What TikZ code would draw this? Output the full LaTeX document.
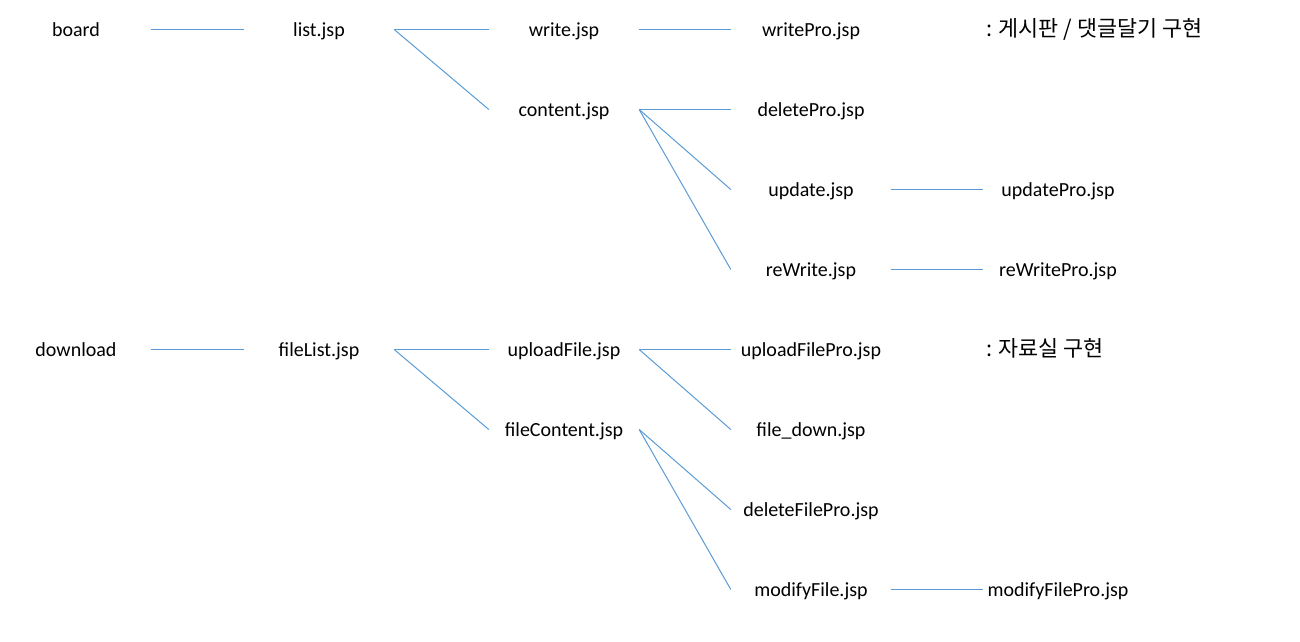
\documentclass[tikz,border=0pt]{standalone}
\usepackage{fontspec}
\setmainfont{Carlito}
\newfontfamily\krfont{Noto Sans CJK KR}
\usetikzlibrary{positioning}
\definecolor{linkblue}{RGB}{91,155,213}

\begin{document}
\begin{tikzpicture}[x=1pt,y=-1pt,
  page/.style={inner sep=0pt,minimum width=150pt,text height=19pt,text depth=4.2pt,
    font=\fontsize{20}{24}\selectfont},
  widepage/.style={page,minimum width=160pt},
  link/.style={draw=linkblue,line width=1pt},
  note/.style={anchor=base west,inner sep=0pt,font=\krfont\fontsize{21.8}{26}\selectfont}]
\useasboundingbox (0,0) rectangle (1300,641);
% board
\node[page] (board) at (76,29.5) {board};
\node[page] (list) at (319,29.5) {list.jsp};
\node[page] (write) at (564,29.5) {write.jsp};
\node[page] (content) at (564,109.5) {content.jsp};
\node[widepage] (writePro) at (811,29.5) {writePro.jsp};
\node[widepage] (deletePro) at (811,109.5) {deletePro.jsp};
\node[widepage] (update) at (811,189.5) {update.jsp};
\node[widepage] (reWrite) at (811,269.5) {reWrite.jsp};
\node[page] (updatePro) at (1058,189.5) {updatePro.jsp};
\node[page] (reWritePro) at (1058,269.5) {reWritePro.jsp};
\node[note] (boardNote) at (986,36.7) {: 게시판 / 댓글달기 구현};
\draw[link] (board.east) -- (list.west);
\draw[link] (list.east) -- (write.west);
\draw[link] (list.east) -- (content.west);
\draw[link] (write.east) -- (writePro.west);
\draw[link] (content.east) -- (deletePro.west);
\draw[link] (content.east) -- (update.west);
\draw[link] (content.east) -- (reWrite.west);
\draw[link] (update.east) -- (updatePro.west);
\draw[link] (reWrite.east) -- (reWritePro.west);
% download
\node[page] (download) at (76,349.5) {download};
\node[page] (fileList) at (319,349.5) {fileList.jsp};
\node[page] (uploadFile) at (564,349.5) {uploadFile.jsp};
\node[page] (fileContent) at (564,429.5) {fileContent.jsp};
\node[widepage] (uploadFilePro) at (811,349.5) {uploadFilePro.jsp};
\node[widepage] (fileDown) at (811,429.5) {file\_down.jsp};
\node[widepage] (deleteFilePro) at (811,509.5) {deleteFilePro.jsp};
\node[widepage] (modifyFile) at (811,589.5) {modifyFile.jsp};
\node[page] (modifyFilePro) at (1058,589.5) {modifyFilePro.jsp};
\node[note] (downloadNote) at (986,356.7) {: 자료실 구현};
\draw[link] (download.east) -- (fileList.west);
\draw[link] (fileList.east) -- (uploadFile.west);
\draw[link] (fileList.east) -- (fileContent.west);
\draw[link] (uploadFile.east) -- (uploadFilePro.west);
\draw[link] (uploadFile.east) -- (fileDown.west);
\draw[link] (fileContent.east) -- (deleteFilePro.west);
\draw[link] (fileContent.east) -- (modifyFile.west);
\draw[link] (modifyFile.east) -- (modifyFilePro.west);
\end{tikzpicture}
\end{document}
